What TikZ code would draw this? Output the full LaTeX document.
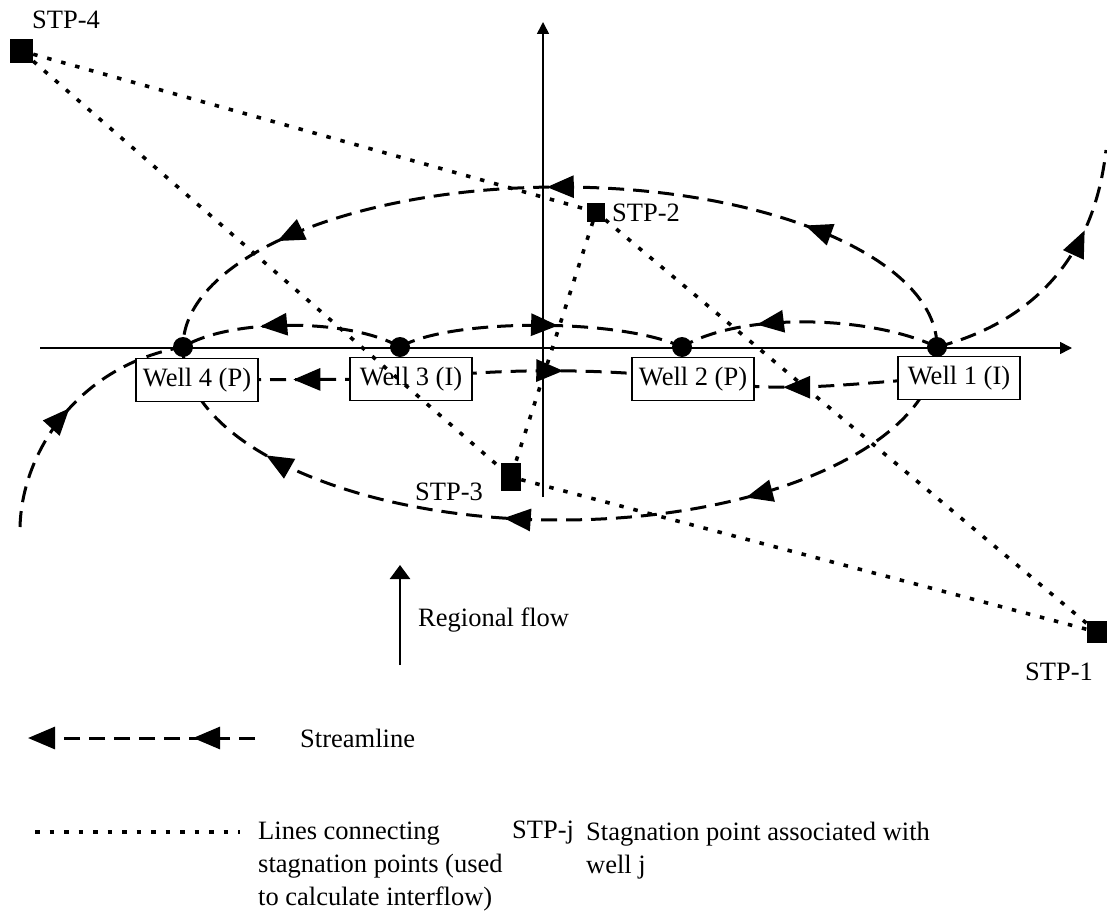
\documentclass[tikz,border=0pt]{standalone}
\usepackage{fontspec}
\setmainfont{Liberation Serif}
\usetikzlibrary{arrows.meta,decorations.markings}
\begin{document}
\begin{tikzpicture}[x=1pt,y=-1pt,
  font=\fontsize{26.5}{33}\selectfont,
  axis/.style={line width=1.6pt,-{Triangle[length=12pt,width=12pt]}},
  stream/.style={line width=3pt,dash pattern=on 16pt off 9pt},
  dotline/.style={line width=3.6pt,dash pattern=on 4.5pt off 10pt},
  wellbox/.style={draw,line width=1.8pt,fill=white,minimum width=122pt,minimum height=43pt,inner sep=0pt},
  welldot/.style={circle,fill=black,minimum size=20pt,inner sep=0pt},
  stp/.style={rectangle,fill=black,inner sep=0pt},
  lbl/.style={inner sep=0pt},
  sarrow/.style={postaction={decorate,decoration={markings,mark=at position #1 with {\arrow{Triangle[length=27pt,width=22pt]}}}}},
]
\useasboundingbox (0,0) rectangle (1107,915);

% axes
\coordinate (xa0) at (40,348);
\coordinate (xa1) at (1072,348);
\coordinate (ya0) at (543,497);
\coordinate (ya1) at (543,22);
\draw[axis] (xa0) -- (xa1);
\draw[axis] (ya0) -- (ya1);

% well positions
\coordinate (p1) at (937,347);
\coordinate (p2) at (682,347);
\coordinate (p3) at (400,347);
\coordinate (p4) at (183,347);
\coordinate (b1) at (959,378);
\coordinate (b2) at (693,379);
\coordinate (b3) at (411,379);
\coordinate (b4) at (197,380);
\coordinate (tr) at (1106,150);
\coordinate (bl) at (20,527);

% streamlines
\draw[stream,sarrow=0.216,sarrow=0.515,sarrow=0.83] (p1) arc[start angle=0,end angle=-180,x radius=377,y radius=160];
\draw[stream,sarrow=0.29,sarrow=0.563,sarrow=0.84] (p1) arc[start angle=0,end angle=180,x radius=377,y radius=173];
\draw[stream,sarrow=0.56] (p3) .. controls (450,318) and (620,318) .. (p2);
\draw[stream,sarrow=0.7] (p1) .. controls (870,315) and (740,312) .. (p2);
\draw[stream,sarrow=0.64] (p3) .. controls (350,318) and (230,318) .. (p4);
\draw[stream,sarrow=0.55] (b3) -- (b4);
\draw[stream,sarrow=0.54] (b3) .. controls (500,368) and (600,368) .. (b2);
\draw[stream,sarrow=0.66] (b1) .. controls (880,378) and (790,398) .. (b2);
\draw[stream,sarrow=0.7] (p1) .. controls (1040,320) and (1095,250) .. (tr);
\draw[stream,sarrow=0.5] (bl) .. controls (22,450) and (80,365) .. (p4);

% wells
\node[wellbox] (w1) at (b1) {Well 1 (I)};
\node[wellbox] (w2) at (b2) {Well 2 (P)};
\node[wellbox] (w3) at (b3) {Well 3 (I)};
\node[wellbox] (w4) at (b4) {Well 4 (P)};
\node[welldot] (d1) at (p1) {};
\node[welldot] (d2) at (p2) {};
\node[welldot] (d3) at (p3) {};
\node[welldot] (d4) at (p4) {};

% stagnation points
\node[stp,minimum width=23pt,minimum height=24pt] (s4) at (21.5,51) {};
\node[stp,minimum width=18pt,minimum height=19pt] (s2) at (596,212) {};
\node[stp,minimum width=20pt,minimum height=28pt] (s3) at (511,477) {};
\node[stp,minimum width=20pt,minimum height=22pt] (s1) at (1097,632) {};
\draw[dotline] (s4) -- (s2);
\draw[dotline] (s4) -- (s3);
\draw[dotline] (s2) -- (s3);
\draw[dotline] (s2) -- (s1);
\draw[dotline] (s3) -- (s1);

\node[lbl,anchor=west] (l4) at (32,20) {STP-4};
\node[lbl,anchor=west] (l2) at (612,213) {STP-2};
\node[lbl,anchor=west] (l3) at (415,492) {STP-3};
\node[lbl,anchor=west] (l1) at (1025,672) {STP-1};

% regional flow
\coordinate (rf0) at (400,665);
\coordinate (rf1) at (400,565);
\draw[line width=2.5pt,-{Triangle[length=14pt,width=20pt]}] (rf0) -- (rf1);
\node[lbl,anchor=base west] (rf) at (418,626) {Regional flow};

% legend
\coordinate (lg1) at (255,738);
\coordinate (lg0) at (28,738);
\draw[stream,-{Triangle[length=27pt,width=22pt]},sarrow=0.273] (lg1) -- (lg0);
\node[lbl,anchor=west] (lgs) at (300,738) {Streamline};
\coordinate (ld0) at (35,832);
\coordinate (ld1) at (240,832);
\draw[dotline] (ld0) -- (ld1);
\node[lbl,anchor=north west,align=left] (lgd) at (258,822) {Lines connecting\\stagnation points (used\\to calculate interflow)};
\node[lbl,anchor=base west] (lgj) at (512,838) {STP-j};
\node[lbl,anchor=north west,align=left] (lgjt) at (586,822) {Stagnation point associated with\\well j};
\end{tikzpicture}
\end{document}
